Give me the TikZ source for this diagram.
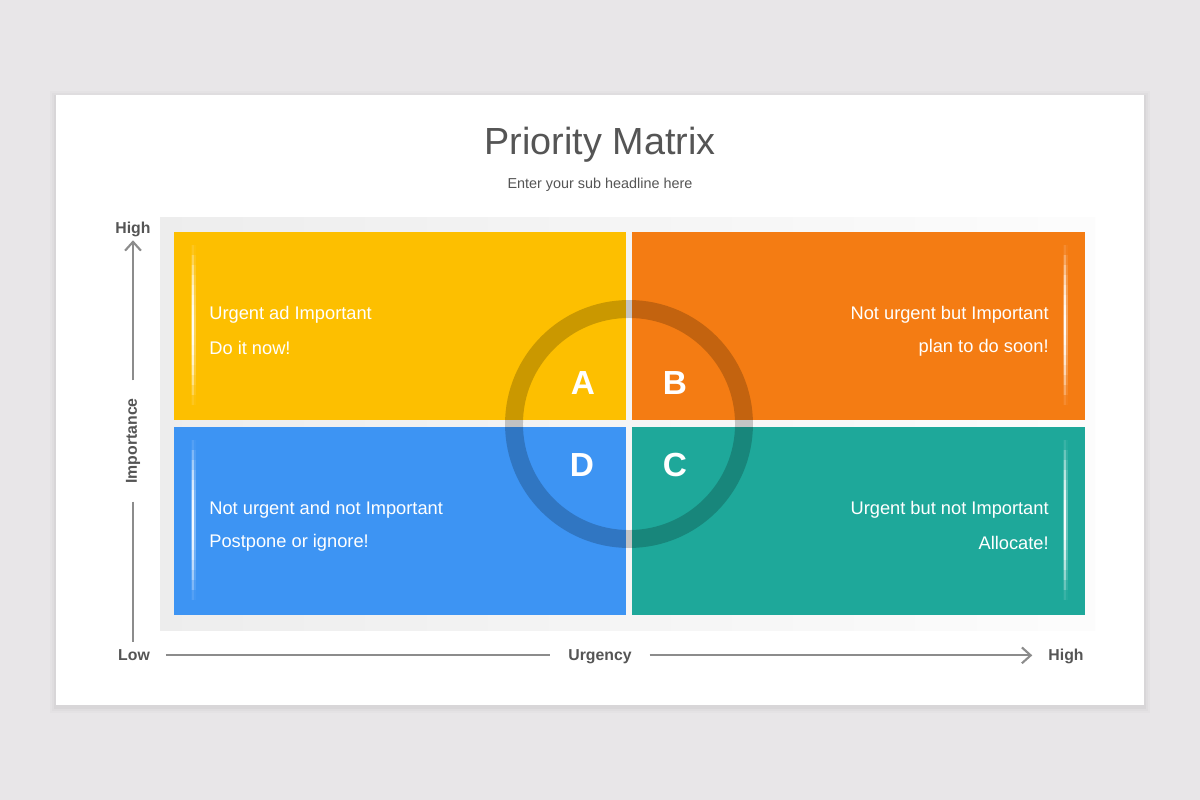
\documentclass[tikz,border=0pt]{standalone}
\usepackage{fontspec}
\setmainfont{Liberation Sans}
\usepackage{tikz}
\usetikzlibrary{arrows.meta,positioning}
\usepackage{xcolor}

\definecolor{pageGray}{HTML}{E8E6E8}
\definecolor{txtGray}{HTML}{555555}
\definecolor{axGray}{HTML}{8C8C8C}
\definecolor{qYellow}{HTML}{FDBF00}
\definecolor{qOrange}{HTML}{F47C13}
\definecolor{qBlue}{HTML}{3D94F3}
\definecolor{qTeal}{HTML}{1EA89A}

\tikzset{
	axlabel/.style={text=txtGray, font=\bfseries\fontsize{9}{11}\selectfont, inner sep=0pt},
	axline/.style={draw=axGray, line width=1.2pt},
	quadtext/.style={text=white, font=\fontsize{10.4}{12}\selectfont, inner sep=0pt},
	letter/.style={text=white, font=\bfseries\fontsize{19}{22}\selectfont, inner sep=0pt},
	glow/.style={fill=white},
}

\begin{document}
\begin{tikzpicture}[x=0.02cm,y=-0.02cm]
		\useasboundingbox (0,0) rectangle (1200,800);
		\fill[pageGray] (0,0) rectangle (1200,800);
		% card with soft shadow
		\foreach \s/\o in {6/.015,4/.02,2/.03}
		\fill[black,opacity=\o] (56-\s,95-\s+2) rectangle (1144+\s,705+\s+2);
		\fill[white] (56,95) rectangle (1144,705);
		% title
		\node[text=txtGray, font=\fontsize{21.5}{26}\selectfont] (title) at (600,145) {Priority Matrix};
		\node[text=txtGray, font=\fontsize{8.2}{10}\selectfont] (subtitle) at (600,185) {Enter your sub headline here};
		% background panel
		\shade[left color=black!7, right color=black!1] (160,218) rectangle (1095,630);
		% quadrants
		\fill[qYellow] (174,232) rectangle (626,420);
		\fill[qOrange] (632,232) rectangle (1085,420);
		\fill[qBlue] (174,427) rectangle (626,615);
		\fill[qTeal] (632,427) rectangle (1085,615);
		\foreach \x in {193,1065}
		\foreach \y in {245,440}
		\foreach \i in {0,...,15} {
		\fill[glow, opacity={0.35*sin((\i+0.5)*180/16)}] (\x-2.5,\y+\i*10) rectangle (\x+2.5,\y+\i*10+10);
		\fill[glow, opacity={0.95*sin((\i+0.5)*180/16)}] (\x-1,\y+\i*10) rectangle (\x+1,\y+\i*10+10);
		}
		% ring
		\draw[black, opacity=.2, line width=10.2pt] (629,424) circle (115);
		% quadrant texts
		\node[quadtext, anchor=west] (ta1) at (209,315) {Urgent ad Important};
		\node[quadtext, anchor=west] (ta2) at (209,348) {Do it now!};
		\node[quadtext, anchor=east] (tb1) at (1049,315) {Not urgent but Important};
		\node[quadtext, anchor=east] (tb2) at (1049,348) {plan to do soon!};
		\node[quadtext, anchor=west] (td1) at (209,510) {Not urgent and not Important};
		\node[quadtext, anchor=west] (td2) at (209,543) {Postpone or ignore!};
		\node[quadtext, anchor=east] (tc1) at (1049,510) {Urgent but not Important};
		\node[quadtext, anchor=east] (tc2) at (1049,543) {Allocate!};
		% letters
		\node[letter] (la) at (583,383) {A};
		\node[letter] (lb) at (675,383) {B};
		\node[letter] (ld) at (582,465) {D};
		\node[letter] (lc) at (675,465) {C};
		% axes
		\node[axlabel] (imphigh) at (133,229) {High};
		\node[axlabel, rotate=90] (imp) at (133,441) {Importance};
		\node[axlabel, anchor=base] (low) at (134,660) {Low};
		\node[axlabel, anchor=base] (urg) at (600,660) {Urgency};
		\node[axlabel, anchor=base] (urghigh) at (1066,660) {High};
		\draw[axline, -{Straight Barb[length=5pt,width=9pt]}, shorten <=10pt, shorten >=2pt] (imp.east) -- (imphigh.south -| imp.east);
		\draw[axline, shorten <=10pt, shorten >=4pt] (imp.west) -- (imp.west |- low.north);
		\draw[axline, shorten <=9pt, shorten >=10pt] (low.mid east) -- (urg.mid west);
		\draw[axline, -{Straight Barb[length=5pt,width=9pt]}, shorten <=10pt, shorten >=9pt] (urg.mid east) -- (urghigh.mid west);
	\end{tikzpicture}
\end{document}
